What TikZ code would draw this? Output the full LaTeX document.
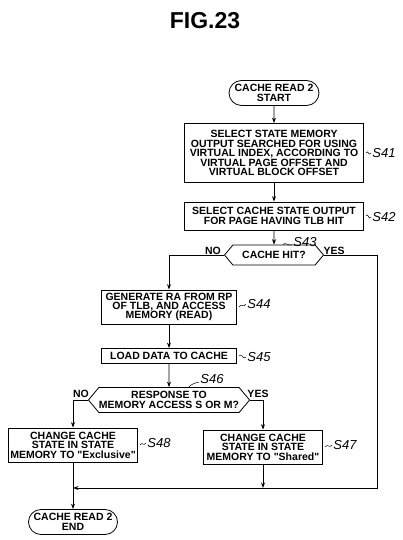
\documentclass[tikz,border=0pt]{standalone}
\usepackage{fontspec}
\setmainfont{Liberation Sans}
\usetikzlibrary{shapes.misc,shapes.symbols,arrows.meta}

\begin{document}
\begin{tikzpicture}[x=1pt,y=-1pt,line width=0.8pt,
  txt/.style={font=\bfseries\fontsize{10.5}{9.4}\selectfont,align=center,inner sep=0pt},
  proc/.style={txt,draw,rectangle,minimum width=#1},
  term/.style={txt,draw,rounded rectangle,minimum width=#1,minimum height=25pt},
  dec/.style={txt,draw,signal,signal to=west and east,signal pointer angle=100,minimum width=#1},
  stp/.style={font=\itshape\fontsize{13}{13}\selectfont,inner sep=0pt},
  arr/.style={-{Stealth[length=5.5pt,width=4pt]}},
  lead/.style={line width=0.5pt}]
\useasboundingbox (0,0) rectangle (403,540);
\node[font=\bfseries\fontsize{23}{23}\selectfont] (fig) at (205,21) {FIG.23};
\node[term=90pt] (start) at (274,93) {CACHE READ 2\\START};
\node[proc=179pt,minimum height=59pt] (s41) at (274,153) {SELECT STATE MEMORY\\OUTPUT SEARCHED FOR USING\\VIRTUAL INDEX, ACCORDING TO\\VIRTUAL PAGE OFFSET AND\\VIRTUAL BLOCK OFFSET};
\node[proc=179pt,minimum height=28pt] (s42) at (274,216) {SELECT CACHE STATE OUTPUT\\FOR PAGE HAVING TLB HIT};
\node[dec=99pt,minimum height=20pt] (s43) at (274,255) {CACHE HIT?};
\node[proc=135pt,minimum height=34pt] (s44) at (169,307) {GENERATE RA FROM RP\\OF TLB, AND ACCESS\\MEMORY (READ)};
\node[proc=135pt,minimum height=15pt] (s45) at (169,356) {LOAD DATA TO CACHE};
\node[dec=157pt,minimum height=25pt] (s46) at (169,400) {RESPONSE TO\\MEMORY ACCESS S OR M?};
\node[proc=129pt,minimum height=34pt] (s48) at (73,445) {CHANGE CACHE\\STATE IN STATE\\MEMORY TO \textquotedbl Exclusive\textquotedbl};
\node[proc=119pt,minimum height=34pt] (s47) at (263,447) {CHANGE CACHE\\STATE IN STATE\\MEMORY TO \textquotedbl Shared\textquotedbl};
\node[term=89pt] (end) at (73,522) {CACHE READ 2\\END};
\node[txt] (no43) at (213,251) {NO};
\node[txt] (yes43) at (334,251) {YES};
\node[txt] (no46) at (81,394) {NO};
\node[txt] (yes46) at (258,394) {YES};
\node[stp,anchor=west] (l41) at (372,153) {S41};
\node[stp,anchor=west] (l42) at (372,217) {S42};
\node[stp,anchor=south west] (l43) at (293,247) {S43};
\node[stp,anchor=west] (l44) at (247,304) {S44};
\node[stp,anchor=west] (l45) at (247,357) {S45};
\node[stp,anchor=south west] (l46) at (200,384) {S46};
\node[stp,anchor=west] (l48) at (147,443) {S48};
\node[stp,anchor=west] (l47) at (333,445) {S47};
\coordinate (rt) at (377,255);
\coordinate (join) at (73,488);
\draw[arr] (start) -- (s41);
\draw[arr] (s41) -- (s42);
\draw[arr] (s42) -- (s43);
\draw[arr] (s43.west) -| (s44.north);
\draw[arr] (s44) -- (s45);
\draw[arr] (s45) -- (s46);
\draw[arr] (s46.west) -| (s48.north);
\draw[arr] (s46.east) -| (s47.north);
\draw[arr] (s47.south) -- (s47.south |- join);
\draw[arr] (s43.east) -- (rt) |- (join);
\draw[arr] (s48.south) -- (end.north);
\draw[lead] ([xshift=2pt]s41.east) .. controls +(3,-4) and +(-3,4) .. ([xshift=-1pt]l41.west);
\draw[lead] ([xshift=2pt]s42.east) .. controls +(3,-4) and +(-3,4) .. ([xshift=-1pt]l42.west);
\draw[lead] ([xshift=2pt]s44.east) .. controls +(3,-4) and +(-3,4) .. ([xshift=-1pt]l44.west);
\draw[lead] ([xshift=2pt]s45.east) .. controls +(3,-4) and +(-3,4) .. ([xshift=-1pt]l45.west);
\draw[lead] ([xshift=2pt]s48.east) .. controls +(3,-4) and +(-3,4) .. ([xshift=-1pt]l48.west);
\draw[lead] ([xshift=2pt]s47.east) .. controls +(3,-4) and +(-3,4) .. ([xshift=-1pt]l47.west);
\draw[lead] ([xshift=9pt]s43.north) .. controls +(2,-3) and +(-4,1) .. ([shift={(-1,-2)}]l43.south west);
\draw[lead] ([xshift=20pt]s46.north) .. controls +(2,-3) and +(-4,1) .. ([shift={(-1,-2)}]l46.south west);
\end{tikzpicture}
\end{document}
